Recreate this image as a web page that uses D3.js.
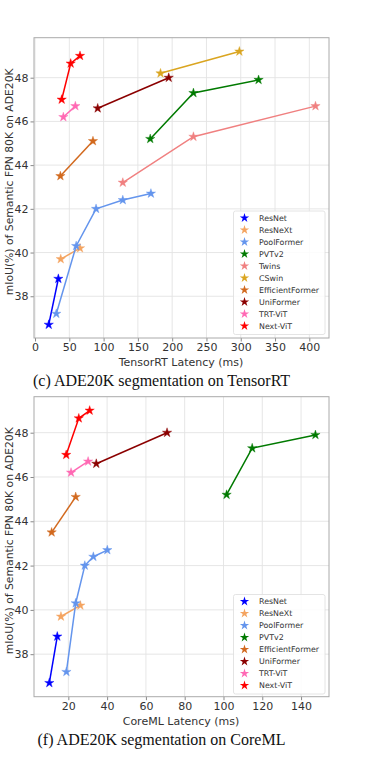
<!DOCTYPE html>
<html>
<head>
<meta charset="utf-8">
<script src="https://cdn.jsdelivr.net/npm/d3@7"></script>
<style>
  body { margin: 0; background: #fff; }
  svg { display: block; }
</style>
</head>
<body>
<svg id="chart" width="374" height="761"></svg>
<script>
// model families and their colours
var families = ["ResNet", "ResNeXt", "PoolFormer", "PVTv2", "Twins", "CSwin",
  "EfficientFormer", "UniFormer", "TRT-ViT", "Next-ViT"];
var colors = ["#0000ff", "#f4a460", "#6495ed", "#007a00", "#f08080", "#daa520",
  "#d2691e", "#8b0000", "#ff69b4", "#ff0000"];

// TensorRT latency (ms) / mIoU
var trtLatency = {
  "ResNet": [20, 34],
  "ResNeXt": [37.5, 65.6],
  "PoolFormer": [31, 60, 89, 128, 169],
  "PVTv2": [168, 231, 326],
  "Twins": [128, 231, 409],
  "CSwin": [183, 298],
  "EfficientFormer": [37, 84.5],
  "UniFormer": [91.4, 195],
  "TRT-ViT": [41.3, 58.8],
  "Next-ViT": [38.9, 52, 65.6]
};
// CoreML latency (ms)
var cmlLatency = {
  "ResNet": [10.2, 14.3],
  "ResNeXt": [16.2, 26.2],
  "PoolFormer": [19, 23.8, 28.5, 32.9, 40.1],
  "PVTv2": [101.6, 114.8, 147.4],
  "EfficientFormer": [11.4, 23.8],
  "UniFormer": [34.4, 70.9],
  "TRT-ViT": [21.4, 30.2],
  "Next-ViT": [18.9, 25.4, 31]
};
var miou = {
  "ResNet": [36.7, 38.8],
  "ResNeXt": [39.7, 40.2],
  "PoolFormer": [37.2, 40.3, 42.0, 42.4, 42.7],
  "PVTv2": [45.2, 47.3, 47.9],
  "Twins": [43.2, 45.3, 46.7],
  "CSwin": [48.2, 49.2],
  "EfficientFormer": [43.5, 45.1],
  "UniFormer": [46.6, 48.0],
  "TRT-ViT": [46.2, 46.7],
  "Next-ViT": [47.0, 48.65, 49.0]
};

var trtTicks = [0, 50, 100, 150, 200, 250, 300, 350, 400];
var cmlTicks = [20, 40, 60, 80, 100, 120, 140];
var yTicks = [38, 40, 42, 44, 46, 48];

var svg = d3.select("#chart");
var colorOf = d3.scaleOrdinal().domain(families).range(colors);
var star = d3.symbol().type(d3.symbolStar).size(27);
var legendStar = d3.symbol().type(d3.symbolStar).size(27);

function drawPanel(opt) {
  var x = d3.scaleLinear().domain(opt.xDomain).range([34, 329]);
  var y = d3.scaleLinear().domain(opt.yDomain).range([opt.bottom, opt.top]);
  var g = svg.append("g");

  // grid
  g.selectAll(".gx").data(opt.xTicks).enter().append("line")
    .attr("x1", d => x(d)).attr("x2", d => x(d))
    .attr("y1", opt.top).attr("y2", opt.bottom)
    .attr("stroke", "#e3e3e3").attr("stroke-width", 0.9);
  g.selectAll(".gy").data(yTicks).enter().append("line")
    .attr("x1", 34).attr("x2", 329)
    .attr("y1", d => y(d)).attr("y2", d => y(d))
    .attr("stroke", "#e3e3e3").attr("stroke-width", 0.9);

  var xAxis = g.append("g")
    .attr("transform", "translate(0," + opt.bottom + ")")
    .call(d3.axisBottom(x).tickValues(opt.xTicks).tickSize(3.5).tickPadding(2));
  var yAxis = g.append("g")
    .attr("transform", "translate(34,0)")
    .call(d3.axisLeft(y).tickValues(yTicks).tickSize(3.5).tickPadding(2));
  [xAxis, yAxis].forEach(function(a) {
    a.select(".domain").remove();
    a.selectAll("line").attr("stroke", "#888");
    a.selectAll("text").attr("fill", "#333")
      .style("font-family", "DejaVu Sans").style("font-size", "11px");
  });

  g.append("rect")
    .attr("x", 34).attr("y", opt.top)
    .attr("width", 295).attr("height", opt.bottom - opt.top)
    .attr("fill", "none").attr("stroke", "#aaa").attr("stroke-width", 1);

  var line = d3.line().x(d => x(d[0])).y(d => y(d[1]));
  opt.names.forEach(function(name) {
    var pts = opt.lat[name].map((v, i) => [v, miou[name][i]]);
    g.append("path").datum(pts)
      .attr("d", line)
      .attr("fill", "none")
      .attr("stroke", colorOf(name))
      .attr("stroke-width", 1.5);
    g.selectAll(null).data(pts).enter().append("path")
      .attr("d", star)
      .attr("transform", d => "translate(" + x(d[0]) + "," + y(d[1]) + ")")
      .attr("fill", colorOf(name))
      .attr("stroke", colorOf(name)).attr("stroke-width", 0.4);
  });

  // legend
  var n = opt.names.length;
  var lg = g.append("g").attr("transform", "translate(233.5," + opt.legendTop + ")");
  lg.append("rect")
    .attr("width", 91.5).attr("height", n * 12 + 3.5)
    .attr("rx", 2)
    .attr("fill", "#fff").attr("fill-opacity", 0.85)
    .attr("stroke", "#ddd").attr("stroke-width", 0.8);
  opt.names.forEach(function(name, i) {
    var yy = 7 + i * 12;
    lg.append("path").attr("d", legendStar)
      .attr("transform", "translate(11," + yy + ")")
      .attr("fill", colorOf(name));
    lg.append("text")
      .attr("x", 25.5).attr("y", yy + 2.8)
      .style("font-family", "DejaVu Sans").style("font-size", "7.9px")
      .attr("fill", "#333")
      .text(name);
  });

  svg.append("text")
    .attr("x", 181).attr("y", opt.bottom + 28)
    .attr("text-anchor", "middle")
    .style("font-family", "DejaVu Sans").style("font-size", "11px")
    .attr("fill", "#333")
    .text(opt.xLabel);

  var cy = (opt.top + opt.bottom) / 2 - 6;
  svg.append("text")
    .attr("transform", "translate(13," + cy + ") rotate(-90)")
    .attr("text-anchor", "middle")
    .style("font-family", "DejaVu Sans").style("font-size", "10.8px")
    .attr("fill", "#333")
    .text("mIoU(%) of Semantic FPN 80K on ADE20K");

  svg.append("text")
    .attr("x", opt.captionX).attr("y", opt.bottom + 48)
    .style("font-family", "Liberation Serif").style("font-size", "16px")
    .attr("fill", "#111")
    .text(opt.caption);
}

drawPanel({
  xDomain: [-1.5, 428.7], yDomain: [36.09, 49.83],
  top: 37.7, bottom: 338,
  xTicks: trtTicks, lat: trtLatency,
  names: families,
  legendTop: 211,
  xLabel: "TensorRT Latency (ms)",
  caption: "(c) ADE20K segmentation on TensorRT",
  captionX: 33
});

drawPanel({
  xDomain: [2.3, 154.4], yDomain: [36.08, 49.625],
  top: 396.7, bottom: 696.7,
  xTicks: cmlTicks, lat: cmlLatency,
  names: families.filter(f => f in cmlLatency),
  legendTop: 594.5,
  xLabel: "CoreML Latency (ms)",
  caption: "(f) ADE20K segmentation on CoreML",
  captionX: 37.5
});
</script>
</body>
</html>
